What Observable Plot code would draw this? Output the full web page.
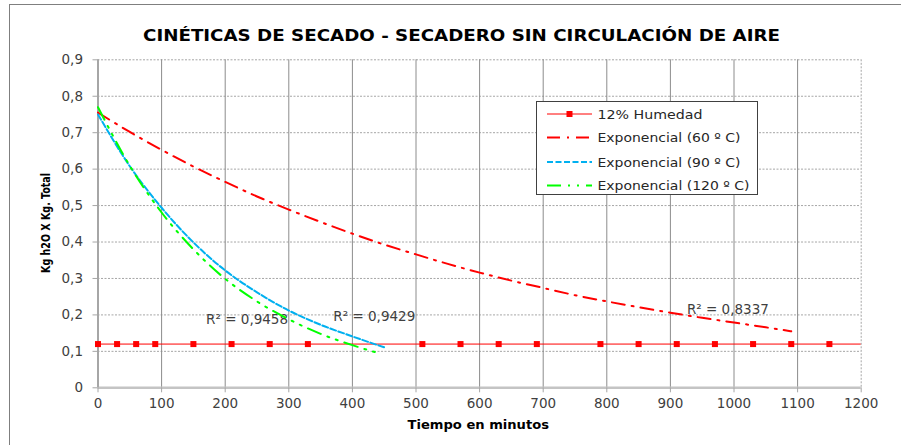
<!DOCTYPE html>
<html>
<head>
<meta charset="utf-8">
<script src="https://cdn.jsdelivr.net/npm/d3@7"></script>
<script src="https://cdn.jsdelivr.net/npm/@observablehq/plot@0.6"></script>
<style>
  html, body { margin: 0; padding: 0; background: #fff; overflow: hidden; }
  #wrap { position: relative; width: 901px; height: 445px; overflow: hidden; font-family: "DejaVu Sans", sans-serif; }
  #frame { position: absolute; left: 8.5px; top: 3.5px; width: 1000px; height: 1000px; border: 1.5px solid #7f7f7f; box-sizing: border-box; }
  #chart { position: absolute; left: 0; top: 0; }
  #legend { position: absolute; left: 536px; top: 101px; width: 222px; height: 94px; border: 1px solid #404040; background: #fff; box-sizing: border-box; }
</style>
</head>
<body>
<div id="wrap">
  <div id="frame"></div>
  <div id="chart"></div>
  <div id="legend"></div>
</div>
<script>
// ---- data ----
const titleText = "CINÉTICAS DE SECADO - SECADERO SIN CIRCULACIÓN DE AIRE";
const xLabel = "Tiempo en minutos";
const yLabel = "Kg h2O X Kg. Total";

const xTicks = [0, 100, 200, 300, 400, 500, 600, 700, 800, 900, 1000, 1100, 1200];
const yTicks = [0, 0.1, 0.2, 0.3, 0.4, 0.5, 0.6, 0.7, 0.8, 0.9];

const seriesNames = ["12% Humedad", "Exponencial (60 º C)", "Exponencial (90 º C)", "Exponencial (120 º C)"];

// 12% Humedad markers
const humedadX = [0, 30, 60, 90, 150, 210, 270, 330, 510, 570, 630, 690, 790, 850, 910, 970, 1030, 1090, 1150];
const humedadY = 0.12;

// Exponencial (60 º C)
const t60 = [0, 50, 100, 150, 200, 250, 300, 350, 400, 450, 500, 550, 600, 650, 700, 750, 800, 850, 900, 950, 1000, 1050, 1090];
const y60 = [0.755, 0.702, 0.653, 0.607, 0.565, 0.525, 0.489, 0.455, 0.423, 0.393, 0.366, 0.340, 0.316, 0.294, 0.274, 0.254, 0.237, 0.221, 0.206, 0.192, 0.179, 0.166, 0.155];

// Exponencial (90 º C)
const t90 = [0, 50, 100, 150, 200, 250, 300, 350, 400, 450];
const y90 = [0.750, 0.608, 0.494, 0.399, 0.322, 0.262, 0.212, 0.173, 0.141, 0.111];

// Exponencial (120 º C)
const t120 = [0, 50, 100, 150, 200, 250, 300, 350, 400, 445];
const y120 = [0.770, 0.609, 0.481, 0.380, 0.299, 0.237, 0.188, 0.148, 0.117, 0.093];

// R² labels
const r2Text = ["R² = 0,9458", "R² = 0,9429", "R² = 0,8337"];
const r2T = [170, 370, 926];
const r2V = [0.187, 0.194, 0.214];

// ---- styles / layout ----
const colors = ["#ff0000", "#ff0000", "#00b0f0", "#00ff00"];
const dashes = [null, "13,7,2,7", "6,2.5", "14,7,2,7,2,7"];
const legendTextWidths = [105, 143, 143, 152];
const legendRowY = [12, 35.5, 60, 83.5];

const toRows = (ts, vs) => ts.map((t, i) => ({t, v: vs[i]}));
const fmtY = d => d === 0 ? "0" : d.toFixed(1).replace(".", ",");

const chart = Plot.plot({
  width: 901,
  height: 445,
  marginLeft: 97.5,
  marginRight: 40.3,
  marginTop: 59.3,
  marginBottom: 57.7,
  style: {fontFamily: "DejaVu Sans, sans-serif", fontSize: "13.5px", background: "transparent", overflow: "visible"},
  x: {domain: [0, 1200], axis: null},
  y: {domain: [0, 0.9], axis: null},
  marks: [
    Plot.ruleY(yTicks.slice(1), {stroke: "#a6a6a6", strokeDasharray: "2,1.5"}),
    Plot.ruleX(xTicks.slice(1, -1), {stroke: "#8c8c8c", strokeWidth: 1}),
    Plot.ruleX(xTicks.slice(-1), {stroke: "#a6a6a6", strokeDasharray: "2,1.5"}),
    Plot.ruleY([0], {stroke: "#c4c4c4", strokeWidth: 2.5}),
    Plot.ruleX([0], {stroke: "#a6a6a6", strokeWidth: 2}),
    Plot.axisX(xTicks, {tickSize: 5, tickPadding: 6, stroke: "#a6a6a6", fill: "#404040", tickFormat: d => String(d), label: null}),
    Plot.axisY(yTicks, {tickSize: 5, tickPadding: 10, stroke: "#a6a6a6", fill: "#404040", tickFormat: fmtY, label: null}),
    Plot.ruleY([humedadY], {x1: xTicks[0], x2: xTicks[xTicks.length - 1], stroke: colors[0], strokeWidth: 1}),
    Plot.dot(humedadX, {x: d => d, y: () => humedadY, symbol: "square", r: 3.4, fill: colors[0], stroke: "none"}),
    Plot.text(r2Text, {x: (d, i) => r2T[i], y: (d, i) => r2V[i], text: d => d, textAnchor: "start", fill: "#404040", fontSize: 13.5}),
    Plot.line(toRows(t60, y60), {x: "t", y: "v", stroke: colors[1], strokeWidth: 2, strokeDasharray: dashes[1], curve: "monotone-x"}),
    Plot.line(toRows(t90, y90), {x: "t", y: "v", stroke: colors[2], strokeWidth: 2, strokeDasharray: dashes[2], curve: "monotone-x"}),
    Plot.line(toRows(t120, y120), {x: "t", y: "v", stroke: colors[3], strokeWidth: 2, strokeDasharray: dashes[3], curve: "monotone-x"})
  ]
});
document.getElementById("chart").appendChild(chart);

// titles drawn into the chart svg
const svg = d3.select(chart);
svg.append("text")
  .attr("x", 143).attr("y", 40.5).attr("text-anchor", "start")
  .attr("textLength", 637).attr("lengthAdjust", "spacingAndGlyphs")
  .style("font-family", "DejaVu Sans, sans-serif").style("font-weight", "bold").style("font-size", "16px")
  .attr("fill", "#000").text(titleText);
svg.append("text")
  .attr("x", 407.5).attr("y", 428.5).attr("text-anchor", "start")
  .attr("textLength", 141.5).attr("lengthAdjust", "spacingAndGlyphs")
  .style("font-family", "DejaVu Sans, sans-serif").style("font-weight", "bold").style("font-size", "12px")
  .attr("fill", "#000").text(xLabel);
svg.append("text")
  .attr("transform", "translate(49.5,273) rotate(-90)").attr("text-anchor", "start")
  .attr("textLength", 100).attr("lengthAdjust", "spacingAndGlyphs")
  .style("font-family", "Liberation Sans Narrow, DejaVu Sans Condensed, sans-serif").style("font-weight", "bold").style("font-size", "12.5px")
  .attr("fill", "#000").text(yLabel);

// legend
const lg = d3.select("#legend").append("svg").attr("width", 220).attr("height", 92);
seriesNames.forEach((name, i) => {
  const cy = legendRowY[i];
  if (i === 0) {
    lg.append("line").attr("x1", 10).attr("x2", 55).attr("y1", cy).attr("y2", cy)
      .attr("stroke", colors[0]).attr("stroke-width", 1);
    lg.append("rect").attr("x", 29.5).attr("y", cy - 3).attr("width", 6).attr("height", 6).attr("fill", colors[0]);
  } else {
    lg.append("line").attr("x1", 10).attr("x2", 55).attr("y1", cy).attr("y2", cy)
      .attr("stroke", colors[i]).attr("stroke-width", 2).attr("stroke-dasharray", dashes[i]);
  }
  lg.append("text").attr("x", 60.5).attr("y", cy + 4.5)
    .attr("textLength", legendTextWidths[i]).attr("lengthAdjust", "spacingAndGlyphs")
    .style("font-family", "DejaVu Sans, sans-serif").style("font-size", "12.5px")
    .attr("fill", "#262626").text(name);
});
</script>
</body>
</html>
